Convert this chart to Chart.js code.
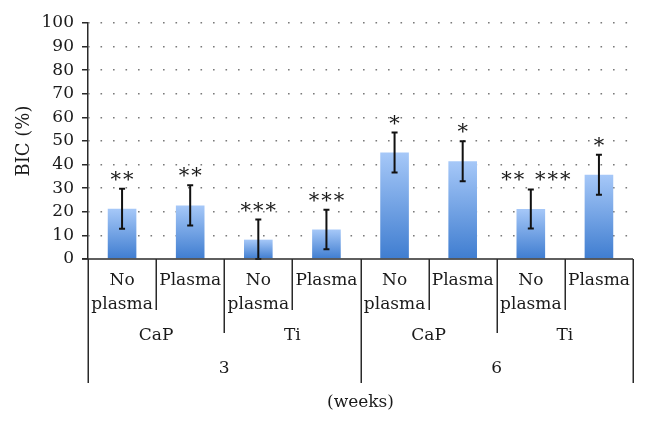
<!DOCTYPE html>
<html>
<head>
<meta charset="utf-8">
<script src="https://cdn.jsdelivr.net/npm/chart.js@4/dist/chart.umd.min.js"></script>
<style>
html,body{margin:0;padding:0;background:#fff;}
#wrap{width:648px;height:426px;}
</style>
</head>
<body>
<div id="wrap"><canvas id="c" width="648" height="426"></canvas></div>
<script>
// ---- data ----
const treatment = [['No','plasma'],['Plasma'],['No','plasma'],['Plasma'],['No','plasma'],['Plasma'],['No','plasma'],['Plasma']];
const material = ['CaP','Ti','CaP','Ti'];
const weeks = ['3','6'];
const axisTitleX = '(weeks)';
const axisTitleY = 'BIC (%)';
const bicMean = [21.3, 22.7, 8.2, 12.5, 45.1, 41.4, 21.2, 35.7];
const bicSD   = [8.5, 8.5, 8.5, 8.4, 8.5, 8.5, 8.3, 8.5];
const significance = ['**','**','***','***','*','*','** ***','*'];
const yTicks = [0,10,20,30,40,50,60,70,80,90,100];

const FONT = 'DejaVu Serif';
const TXT = '#1a1a1a';

function barGradient(ctx){
  const chart = ctx.chart;
  const ys = chart.scales && chart.scales.y;
  if (!chart.chartArea || !ys || ctx.raw === undefined) return '#7aa7e8';
  const top = ys.getPixelForValue(ctx.raw);
  const bot = ys.getPixelForValue(0);
  const g = chart.ctx.createLinearGradient(0, top, 0, bot);
  g.addColorStop(0, '#a6c8f8');
  g.addColorStop(1, '#3f7dd0');
  return g;
}

const errorBars = {
  id: 'errorBars',
  afterDatasetsDraw(chart){
    const c = chart.ctx, ys = chart.scales.y;
    const meta = chart.getDatasetMeta(0);
    c.save();
    c.strokeStyle = '#111';
    c.lineWidth = 2;
    meta.data.forEach((bar, i) => {
      const x = bar.x;
      const yT = ys.getPixelForValue(bicMean[i] + bicSD[i]);
      const yB = ys.getPixelForValue(Math.max(0, bicMean[i] - bicSD[i]));
      c.beginPath();
      c.moveTo(x, yT); c.lineTo(x, yB);
      c.moveTo(x - 3, yT); c.lineTo(x + 3, yT);
      c.moveTo(x - 3, yB); c.lineTo(x + 3, yB);
      c.stroke();
      // significance marks
      c.fillStyle = TXT;
      c.font = '21px ' + FONT;
      c.textAlign = 'center';
      c.textBaseline = 'alphabetic';
      c.letterSpacing = '2px';
      const dx = significance[i].length > 3 ? 6 : 1;
      c.fillText(significance[i], x + dx, yT - 3);
    });
    c.restore();
  }
};

const hierAxis = {
  id: 'hierAxis',
  afterDraw(chart){
    const c = chart.ctx, xs = chart.scales.x, ca = chart.chartArea;
    const n = treatment.length;
    const w = (xs.right - xs.left) / n;
    const b = ca.bottom;
    c.save();
    c.strokeStyle = '#2a2a2a';
    c.lineWidth = 1.5;
    // axis line
    c.beginPath();
    c.moveTo(xs.left - 6, b); c.lineTo(xs.right, b);
    c.stroke();
    // separators
    for (let i = 0; i <= n; i++) {
      const x = Math.round(xs.left + i * w) + 0.25;
      let depth = 51;
      if (i % 4 === 0) depth = 124; else if (i % 2 === 0) depth = 74;
      c.beginPath();
      c.moveTo(x, b); c.lineTo(x, b + depth);
      c.stroke();
    }
    c.fillStyle = TXT;
    c.font = '17px ' + FONT;
    c.textAlign = 'center';
    c.textBaseline = 'middle';
    treatment.forEach((lab, i) => {
      const x = xs.getPixelForValue(i);
      lab.forEach((line, k) => c.fillText(line, x, b + 22 + k * 24));
    });
    material.forEach((lab, j) => {
      const x = (xs.getPixelForValue(2*j) + xs.getPixelForValue(2*j+1)) / 2;
      c.fillText(lab, x, b + 77);
    });
    weeks.forEach((lab, j) => {
      const x = (xs.getPixelForValue(4*j) + xs.getPixelForValue(4*j+3)) / 2;
      c.fillText(lab, x, b + 110);
    });
    c.fillText(axisTitleX, (xs.left + xs.right) / 2, b + 144);
    c.restore();
  }
};

new Chart(document.getElementById('c'), {
  type: 'bar',
  data: {
    labels: treatment.map(t => t.join(' ')),
    datasets: [{
      data: bicMean,
      backgroundColor: barGradient,
      borderWidth: 0,
      barPercentage: 0.42,
      categoryPercentage: 1.0
    }]
  },
  options: {
    responsive: false,
    animation: false,
    devicePixelRatio: 1,
    layout: { padding: { top: 23, right: 15, bottom: 167, left: 0 } },
    plugins: { legend: { display: false }, tooltip: { enabled: false } },
    scales: {
      x: { display: false },
      y: {
        min: 0, max: 100,
        afterFit(s){ s.width = 88; },
        afterBuildTicks(s){ s.ticks = yTicks.map(v => ({ value: v })); },
        border: { display: true, color: '#2a2a2a', width: 1.5, dash: [1.6, 10.9], dashOffset: -12 },
        grid: {
          color: (ctx) => ctx.tick && ctx.tick.value === 0 ? 'rgba(0,0,0,0)' : '#7a7a7a',
          lineWidth: 1.6,
          drawTicks: true,
          tickLength: 6,
          tickColor: '#2a2a2a',
          tickWidth: 1.5,
          tickBorderDash: [1, 0]
        },
        ticks: {
          color: TXT,
          font: { family: FONT, size: 17 },
          padding: 8
        },
        title: {
          display: true,
          text: axisTitleY,
          color: TXT,
          font: { family: FONT, size: 18 },
          padding: { top: 14, bottom: 0 }
        }
      }
    }
  },
  plugins: [errorBars, hierAxis]
});
</script>
</body>
</html>
